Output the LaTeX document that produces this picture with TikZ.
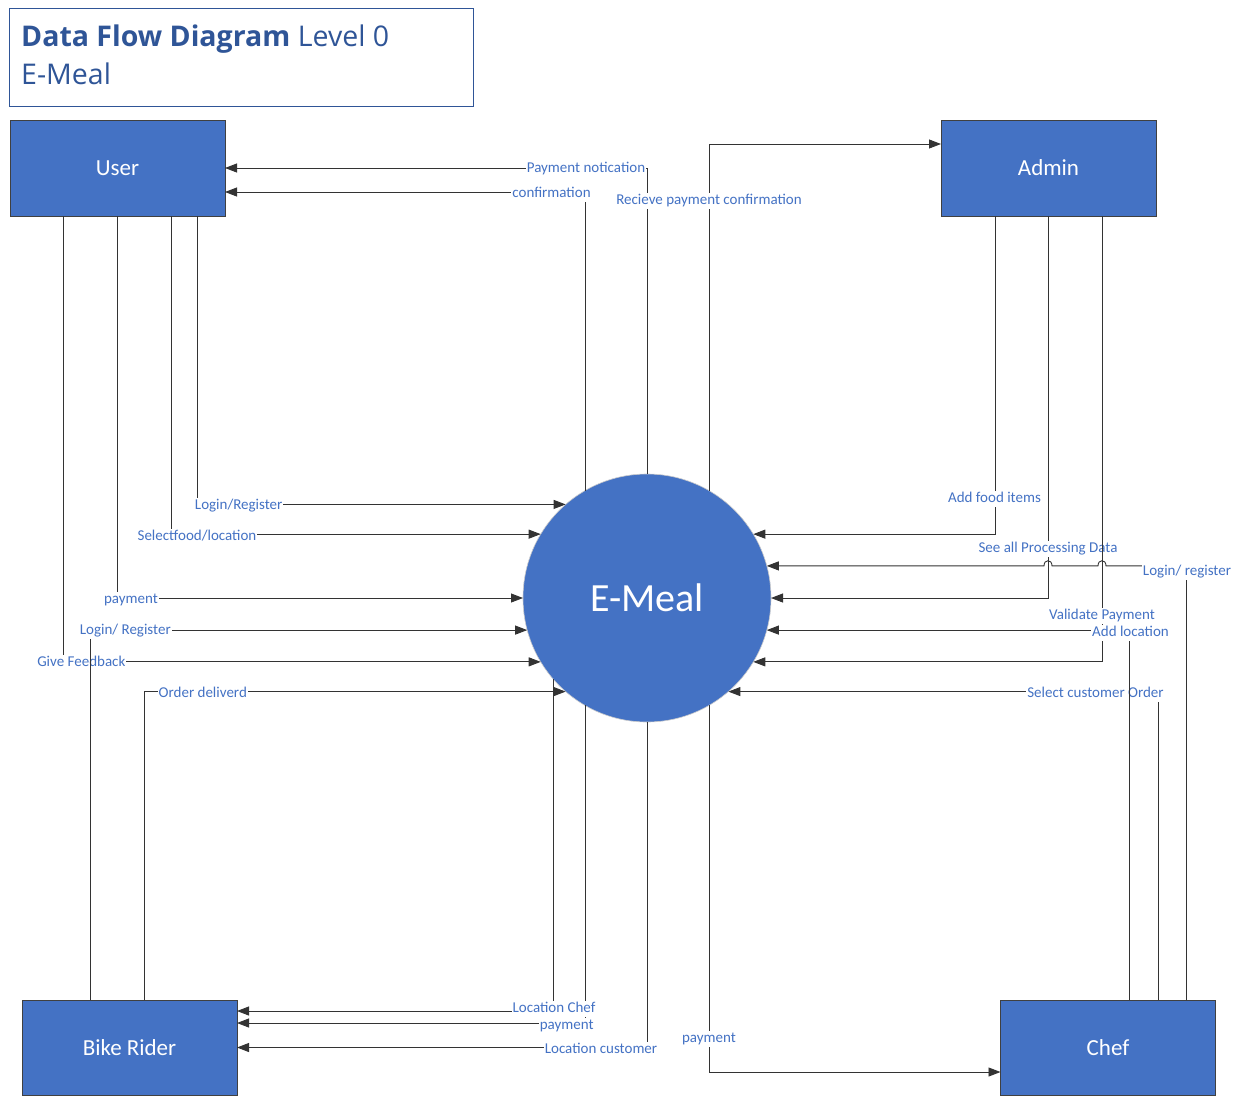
\documentclass[tikz,border=0pt]{standalone}
\usepackage{fontspec}
\setmainfont{Carlito}
\newfontfamily\titlefont{Open Sans}
\usetikzlibrary{arrows.meta}
\definecolor{boxblue}{HTML}{4472C4}
\definecolor{labelblue}{HTML}{4472C4}
\definecolor{titleblue}{HTML}{2F5597}

\begin{document}
\begin{tikzpicture}[x=1pt,y=-1pt,
  entity/.style={draw=black!75, line width=1pt, fill=boxblue, minimum width=215pt,
    minimum height=96pt, outer sep=0pt, inner sep=0pt, text=white,
    font=\fontsize{23}{28}\selectfont},
  flow/.style={draw=black!80, line width=0.9pt, -{Triangle[length=12pt,width=9pt]}},
  lbl/.style={fill=white, text=labelblue, inner sep=1pt, yshift=-2pt,
    font=\fontsize{15}{18}\selectfont, text height=10.5pt, text depth=3pt},
  ttl/.style={anchor=base west, inner sep=0pt, text=titleblue,
    font=\titlefont\fontsize{28.5}{34}\selectfont},
]
\useasboundingbox (0,0) rectangle (1243,1096);

% title block
\node[draw=titleblue, line width=1pt, minimum width=464pt, minimum height=98pt,
  anchor=north west, inner sep=0pt] (titlebox) at (9,8) {};
\node[ttl] (title1) at (21,46) {\textbf{Data Flow Diagram} Level 0};
\node[ttl] (title2) at (21,84) {E-Meal};

% external entities and the process
\node[entity] (user)  at (117.5,168) {User};
\node[entity] (admin) at (1048.5,168) {Admin};
\node[entity, minimum height=95pt] (bike) at (129.5,1047.5) {Bike Rider};
\node[entity, minimum height=95pt] (chef) at (1108,1047.5) {Chef};
\node[circle, fill=boxblue, draw=gray!40, line width=0.6pt, minimum size=248pt,
  inner sep=0pt, outer sep=0pt, text=white, font=\fontsize{40}{48}\selectfont]
  (emeal) at (647,598) {E-Meal};

% flows back to the user
\draw[flow] (emeal.90) |- (user.east);
\node[lbl] (l1) at (586,167) {Payment notication};
\draw[flow] (emeal.120) |- ([yshift=-24pt]user.east);
\node[lbl] (l2) at (551.5,192) {confirmation};

% admin flows
\draw[flow] (emeal.60) |- ([yshift=24pt]admin.west);
\node[lbl] (l3) at (709,199) {Recieve payment confirmation};
\draw[flow] ([xshift=54pt]admin.south west) |- (emeal.31);
\node[lbl] (l4) at (994.5,497) {Add food items};
\draw[flow] ([xshift=107pt]admin.south west) |- (emeal.0);
\node[lbl] (l5) at (1048,547) {See all Processing Data};
\draw[flow] ([xshift=161pt]admin.south west) |- (emeal.329);
\node[lbl] (l6) at (1102,614) {Validate Payment};

% chef flows (the login line hops over the admin lines)
\coordinate (hop) at (emeal.15);
\draw[flow] ([xshift=186pt]chef.north west) |- (hop -| 1106,0)
  .. controls ([yshift=7pt]hop -| 1106,0) and ([yshift=7pt]hop -| 1098,0) .. (hop -| 1098,0)
  -- (hop -| 1052,0)
  .. controls ([yshift=7pt]hop -| 1052,0) and ([yshift=7pt]hop -| 1044,0) .. (hop -| 1044,0)
  -- (hop);
\node[lbl] (l7) at (1187,570) {Login/ register};
\draw[flow] ([xshift=158pt]chef.north west) |- (emeal.311);
\node[lbl] (l8) at (1095.5,692) {Select customer Order};
\draw[flow] ([xshift=129pt]chef.north west) |- (emeal.345);
\node[lbl] (l9) at (1130.5,631) {Add location};
\draw[flow] (emeal.300) |- ([yshift=-24.5pt]chef.west);
\node[lbl] (l10) at (709,1037) {payment};

% flows to the bike rider
\draw[flow] (emeal.221) |- ([yshift=36.5pt]bike.east);
\draw[flow] (emeal.240) |- ([yshift=24.5pt]bike.east);
\node[lbl] (l11) at (554,1007) {Location Chef};
\node[lbl] (l12) at (566.7,1023.5) {payment};
\draw[flow] (emeal.270) |- (bike.east);
\node[lbl] (l13) at (601,1048) {Location customer};

% user flows
\draw[flow] ([xshift=187pt]user.south west) |- (emeal.131);
\node[lbl] (l14) at (238.7,504) {Login/Register};
\draw[flow] ([xshift=161pt]user.south west) |- (emeal.149);
\node[lbl] (l15) at (197,535) {Selectfood/location};
\draw[flow] ([xshift=107pt]user.south west) |- (emeal.180);
\node[lbl] (l16) at (131,598) {payment};
\draw[flow] ([xshift=53pt]user.south west) |- (emeal.211);
\node[lbl] (l17) at (81.3,661) {Give Feedback};

% bike rider flows
\draw[flow] ([xshift=68pt]bike.north west) |- (emeal.195);
\node[lbl] (l18) at (125.3,629) {Login/ Register};
\draw[flow] ([xshift=122pt]bike.north west) |- (emeal.229);
\node[lbl] (l19) at (202.8,692) {Order deliverd};
\end{tikzpicture}
\end{document}
